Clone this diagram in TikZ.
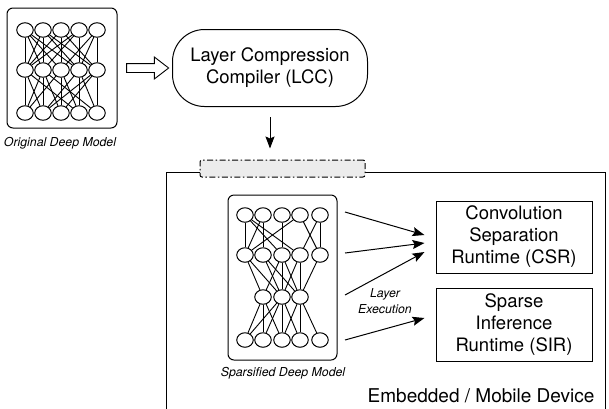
\documentclass[tikz,border=0pt]{standalone}
\usepackage{fontspec}
\setmainfont{TeX Gyre Heros}
\usetikzlibrary{shapes.geometric,shapes.arrows,arrows.meta,calc}

\tikzset{
  neuron/.style={draw, ellipse, minimum width=16.5pt, minimum height=14.5pt, inner sep=0pt, line width=1pt},
  link/.style={line width=0.9pt},
  modelbox/.style={draw, rectangle, rounded corners=6pt, line width=1pt},
  runtimebox/.style={draw, rectangle, line width=1pt, minimum width=156pt, minimum height=72pt, align=center, font=\fontsize{18.5}{22}\selectfont},
  caption/.style={font=\fontsize{12.3}{16}\selectfont\itshape},
  arr/.style={-{Stealth[length=12pt,width=9pt,inset=2pt]}, line width=1pt}
}

\begin{document}
\begin{tikzpicture}[x=1pt, y=-1pt]
    \useasboundingbox (0,0) rectangle (609,408);

    % Original Deep Model
    \node[modelbox, minimum width=110pt, minimum height=120pt] (orig) at (62,68) {};
    \foreach \l/\y in {1/30,2/70,3/113}
      \foreach \i/\x in {1/25,2/43,3/61,4/79,5/97}
        \node[neuron] (o\l-\i) at (\x,\y) {};
    \foreach \a/\b in {1/1,2/2,3/3,4/4,5/5,1/2,1/3,1/4,2/1,2/4,2/5,3/1,3/5,4/1,4/2,5/3,5/4}
      \draw[link] (o1-\a) -- (o2-\b);
    \foreach \a/\b in {1/1,2/2,3/3,4/4,5/5,1/2,1/4,2/1,2/3,2/5,3/1,3/4,4/2,4/5,5/3,5/2}
      \draw[link] (o2-\a) -- (o3-\b);
    \node[caption] (origcap) at (60,143) {Original Deep Model};

    % Layer Compression Compiler
    \node[draw, rectangle, rounded corners=32pt, line width=1pt, minimum width=195pt, minimum height=77pt, align=center, font=\fontsize{18.5}{22}\selectfont] (lcc) at (270,68) {Layer Compression\\Compiler (LCC)};

    % Hollow arrow
    \node[draw, single arrow, single arrow head extend=6.5pt, single arrow tip angle=75, inner sep=4pt, minimum height=42pt, line width=0.9pt] (conv) at ($(orig.east)!0.5!(lcc.west)$) {};

    % Embedded / Mobile Device
    \node[draw, rectangle, line width=1.3pt, minimum width=439pt, minimum height=260pt, anchor=north west] (device) at (166,172) {};
    \node[anchor=base east, font=\fontsize{19}{22}\selectfont] (devlabel) at (598,402) {Embedded / Mobile Device};

    % Port
    \node[draw, dash pattern=on 6pt off 2.5pt on 1.5pt off 2.5pt, fill=gray!15, rounded corners=2pt, line width=1pt, minimum width=165pt, minimum height=17pt] (port) at (282.5,168.5) {};
    \draw[arr] ([yshift=-10pt]lcc.south) -- ([yshift=11pt]lcc.south |- port.north);

    % Sparsified Deep Model
    \node[modelbox, minimum width=109pt, minimum height=165pt] (sparse) at (282.5,277.5) {};
    \foreach \l/\y in {1/215,2/255,4/340}
      \foreach \i/\x in {1/245,2/263,3/282,4/300,5/320}
        \node[neuron] (s\l-\i) at (\x,\y) {};
    \foreach \i/\x in {1/263,2/282,3/300}
      \node[neuron] (s3-\i) at (\x,297) {};
    \foreach \a/\b in {1/1,1/3,1/4,2/1,2/2,3/3,4/1,4/5,5/4,5/5}
      \draw[link] (s1-\a) -- (s2-\b);
    \foreach \a/\b in {1/1,1/2,2/2,3/1,3/2,3/3,4/2,4/3,5/3,2/3}
      \draw[link] (s2-\a) -- (s3-\b);
    \foreach \a/\b in {1/1,1/2,1/3,2/2,2/3,2/4,3/3,3/4,3/5,2/1}
      \draw[link] (s3-\a) -- (s4-\b);
    \node[caption] (sparsecap) at (283,373) {Sparsified Deep Model};

    % Runtimes
    \node[runtimebox] (csr) at (514,237) {Convolution\\Separation\\Runtime (CSR)};
    \node[runtimebox, minimum height=73pt] (sir) at (514,324.5) {Sparse\\Inference\\Runtime (SIR)};

    % Layer execution
    \coordinate (out1) at (345,212);
    \coordinate (out2) at (345,253);
    \coordinate (out3) at (345,295);
    \coordinate (out4) at (345,340);
    \draw[arr] (out1) -- ($(csr.west)+(-11,-2)$);
    \draw[arr] (out2) -- ($(csr.west)+(-11,6)$);
    \draw[arr] (out3) -- ($(csr.west)+(-11,15)$);
    \draw[arr] (out4) -- ($(sir.west)+(-11,-6.5)$);
    \node[caption, align=center] (exec) at (385,301) {Layer\\Execution};

\end{tikzpicture}
\end{document}
